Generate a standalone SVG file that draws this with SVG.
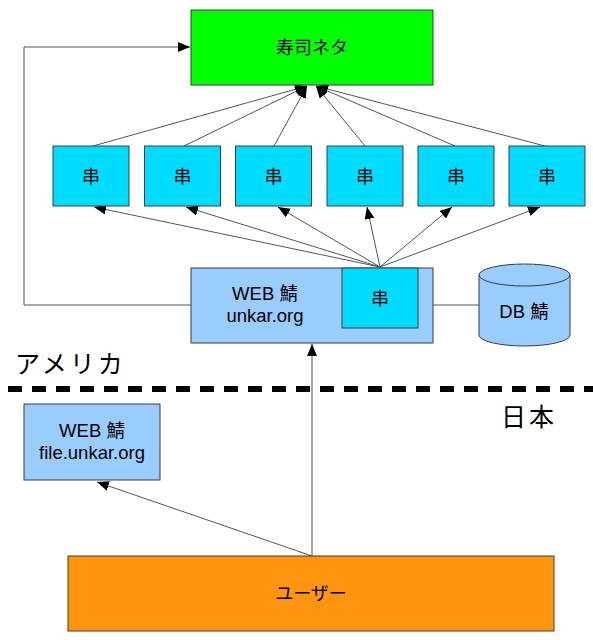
<svg xmlns="http://www.w3.org/2000/svg" width="593" height="640" viewBox="0 0 593 640">
<style>
.box{stroke:#3c3c3c;stroke-width:1}
.green{fill:#00ff00}
.cyan{fill:#00dcff}
.blue{fill:#99ccff}
.orange{fill:#ff950e}
.cjk{font-family:"Noto Sans CJK JP",sans-serif;font-size:18px;fill:#000;text-anchor:middle}
.lat{font-family:"Liberation Sans","Noto Sans CJK JP",sans-serif;font-size:18.5px;fill:#000;text-anchor:middle}
.big{font-family:"Noto Sans CJK JP",sans-serif;font-size:25px;fill:#000;letter-spacing:3px}
.conn{fill:none;stroke:#555;stroke-width:1}
</style>
<defs>
<marker id="arr" markerUnits="userSpaceOnUse" markerWidth="13" markerHeight="11" refX="12" refY="5" orient="auto">
<path d="M0,0 L12,5 L0,10 z" fill="#000"/>
</marker>
</defs>

<g id="connectors">
<path class="conn" d="M191,305 H24 V47 H190" marker-end="url(#arr)"/>
<line class="conn" x1="93" y1="146" x2="307" y2="86" marker-end="url(#arr)"/>
<line class="conn" x1="184" y1="146" x2="307" y2="86" marker-end="url(#arr)"/>
<line class="conn" x1="274" y1="146" x2="307" y2="86" marker-end="url(#arr)"/>
<line class="conn" x1="365" y1="146" x2="316" y2="86" marker-end="url(#arr)"/>
<line class="conn" x1="455" y1="146" x2="316" y2="86" marker-end="url(#arr)"/>
<line class="conn" x1="545" y1="146" x2="316" y2="86" marker-end="url(#arr)"/>
<line class="conn" x1="380" y1="267" x2="94" y2="207" marker-end="url(#arr)"/>
<line class="conn" x1="380" y1="267" x2="186" y2="207" marker-end="url(#arr)"/>
<line class="conn" x1="380" y1="267" x2="278" y2="207" marker-end="url(#arr)"/>
<line class="conn" x1="380" y1="267" x2="367" y2="207" marker-end="url(#arr)"/>
<line class="conn" x1="380" y1="267" x2="452" y2="207" marker-end="url(#arr)"/>
<line class="conn" x1="380" y1="267" x2="540" y2="207" marker-end="url(#arr)"/>
<line class="conn" x1="433" y1="305" x2="479" y2="305"/>
<line class="conn" x1="312" y1="556" x2="312" y2="344" marker-end="url(#arr)"/>
<line class="conn" x1="312" y1="556" x2="97" y2="482" marker-end="url(#arr)"/>
</g>

<g id="sushi-neta">
<rect class="box green" x="191" y="10" width="242" height="75"/>
<text class="cjk" x="312" y="53.5">寿司ネタ</text>
</g>

<g id="kushi-1"><rect class="box cyan" x="53" y="146" width="76" height="60"/><text class="cjk" x="91" y="182.5">串</text></g>
<g id="kushi-2"><rect class="box cyan" x="144.5" y="146" width="76" height="60"/><text class="cjk" x="182.5" y="182.5">串</text></g>
<g id="kushi-3"><rect class="box cyan" x="235.5" y="146" width="76" height="60"/><text class="cjk" x="273.5" y="182.5">串</text></g>
<g id="kushi-4"><rect class="box cyan" x="327" y="146" width="76" height="60"/><text class="cjk" x="365" y="182.5">串</text></g>
<g id="kushi-5"><rect class="box cyan" x="418" y="146" width="76" height="60"/><text class="cjk" x="456" y="182.5">串</text></g>
<g id="kushi-6"><rect class="box cyan" x="509" y="146" width="76" height="60"/><text class="cjk" x="547" y="182.5">串</text></g>

<g id="web-unkar">
<rect class="box blue" x="191" y="268" width="242" height="75"/>
<text class="lat" x="265" y="300">WEB 鯖</text>
<text class="lat" x="265" y="322">unkar.org</text>
<rect class="box cyan" x="342" y="268" width="76" height="60"/>
<text class="cjk" x="380" y="305">串</text>
</g>

<g id="db">
<path class="box blue" d="M479,275 V335 A45.5,11 0 0 0 570,335 V275 A45.5,11 0 0 0 479,275 Z"/>
<path class="box" fill="none" d="M479,275 A45.5,11 0 0 0 570,275"/>
<text class="lat" x="524" y="318">DB 鯖</text>
</g>

<g id="america">
<text class="big" x="15" y="373">アメリカ</text>
</g>
<line x1="8" y1="389" x2="593" y2="389" stroke="#000" stroke-width="6" stroke-dasharray="14 10"/>
<g id="japan">
<text class="big" x="501" y="426">日本</text>
</g>

<g id="web-file">
<rect class="box blue" x="24" y="404" width="136" height="76"/>
<text class="lat" x="92" y="437">WEB 鯖</text>
<text class="lat" x="92" y="459">file.unkar.org</text>
</g>

<g id="user">
<rect class="box orange" x="68" y="556" width="486" height="75"/>
<text class="cjk" x="311" y="600">ユーザー</text>
</g>
</svg>
